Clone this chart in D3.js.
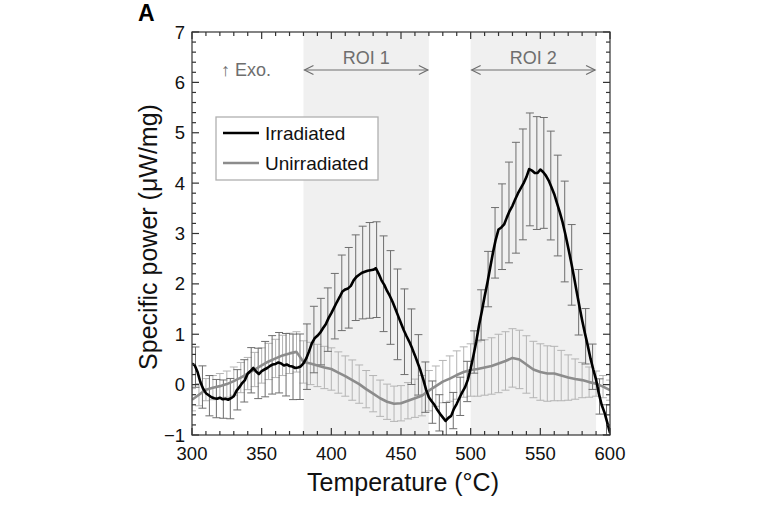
<!DOCTYPE html>
<html><head><meta charset="utf-8">
<script src="https://cdn.jsdelivr.net/npm/d3@7"></script>
<style>body{margin:0;background:#fff}text{font-family:"Liberation Sans",Arial,Helvetica,sans-serif}</style>
</head><body>
<svg id="chart" width="760" height="506"></svg>
<script>
// ---------- data ----------
const irradiatedTemp = [300,302,304,306,308,310,312,314,316,318,320,322,324,326,328,330,332,334,336,338,340,342,344,346,348,350,352,354,356,358,360,362,364,366,368,370,372,374,376,378,380,382,384,386,388,390,392,394,396,398,400,402,404,406,408,410,412,414,416,418,420,422,424,426,428,430,432,434,436,438,440,442,444,446,448,450,452,454,456,458,460,462,464,466,468,470,472,474,476,478,480,482,484,486,488,490,492,494,496,498,500,502,504,506,508,510,512,514,516,518,520,522,524,526,528,530,532,534,536,538,540,542,544,546,548,550,552,554,556,558,560,562,564,566,568,570,572,574,576,578,580,582,584,586,588,590,592,594,596,598,600];
const irradiatedPower = [0.42,0.38,0.25,0.05,-0.08,-0.17,-0.21,-0.25,-0.27,-0.28,-0.26,-0.29,-0.28,-0.30,-0.27,-0.23,-0.12,-0.05,0.03,0.09,0.22,0.27,0.33,0.26,0.21,0.27,0.30,0.33,0.37,0.40,0.41,0.44,0.42,0.38,0.40,0.37,0.36,0.33,0.34,0.36,0.42,0.52,0.66,0.82,0.92,0.97,1.03,1.12,1.20,1.32,1.42,1.53,1.64,1.74,1.85,1.89,1.91,1.96,2.07,2.14,2.18,2.22,2.24,2.26,2.27,2.28,2.31,2.20,2.07,1.98,1.86,1.76,1.64,1.50,1.36,1.22,1.08,0.96,0.85,0.72,0.58,0.43,0.28,0.10,-0.10,-0.25,-0.33,-0.40,-0.50,-0.58,-0.65,-0.72,-0.66,-0.62,-0.48,-0.38,-0.26,-0.15,-0.05,0.10,0.32,0.58,0.85,1.18,1.45,1.75,2.02,2.32,2.62,2.88,3.08,3.12,3.18,3.32,3.45,3.55,3.68,3.80,3.90,4.00,4.12,4.28,4.25,4.20,4.20,4.27,4.22,4.15,4.05,3.92,3.78,3.60,3.42,3.22,2.98,2.72,2.45,2.16,1.86,1.56,1.28,1.02,0.78,0.52,0.30,0.10,-0.18,-0.40,-0.55,-0.75,-0.96];
const irradiatedErrTemp = [302.5,307.5,312.5,317.5,322.5,327.5,332.5,337.5,342.5,347.5,352.5,357.5,362.5,367.5,372.5,377.5,382.5,387.5,392.5,397.5,402.5,407.5,412.5,417.5,422.5,427.5,432.5,437.5,442.5,447.5,452.5,457.5,462.5,467.5,472.5,477.5,482.5,487.5,492.5,497.5,502.5,507.5,512.5,517.5,522.5,527.5,532.5,537.5,542.5,547.5,552.5,557.5,562.5,567.5,572.5,577.5,582.5,587.5,592.5,597.5];
const irradiatedErr = [0.4,0.42,0.4,0.38,0.38,0.4,0.4,0.42,0.45,0.5,0.55,0.58,0.6,0.62,0.65,0.65,0.65,0.66,0.66,0.63,0.65,0.75,0.8,0.85,0.92,0.95,0.95,0.95,0.93,0.9,0.85,0.75,0.6,0.5,0.42,0.36,0.35,0.36,0.38,0.4,0.42,0.5,0.55,0.7,0.85,1.0,1.1,1.1,1.12,1.12,1.1,1.08,1.0,1.0,0.8,0.65,0.55,0.45,0.35,0.3];

const unirradiatedTemp = [300,305,310,315,320,325,330,335,340,345,350,355,360,365,370,375,380,385,390,395,400,405,410,415,420,425,430,435,440,445,450,455,460,465,470,475,480,485,490,495,500,505,510,515,520,525,530,535,540,545,550,555,560,565,570,575,580,585,590,595,600];
const unirradiatedPower = [-0.30,-0.20,-0.10,-0.06,-0.03,0.01,0.07,0.14,0.22,0.30,0.38,0.46,0.52,0.58,0.62,0.65,0.45,0.42,0.38,0.34,0.31,0.24,0.17,0.09,0.01,-0.09,-0.18,-0.27,-0.34,-0.38,-0.37,-0.32,-0.27,-0.22,-0.12,-0.03,0.06,0.12,0.19,0.25,0.29,0.31,0.34,0.37,0.42,0.47,0.53,0.50,0.40,0.30,0.25,0.22,0.22,0.18,0.14,0.11,0.09,0.05,0.02,-0.04,-0.11];
const unirradiatedErr = [0.22,0.22,0.22,0.24,0.25,0.26,0.28,0.3,0.32,0.34,0.35,0.36,0.38,0.4,0.4,0.4,0.42,0.42,0.42,0.42,0.42,0.41,0.4,0.4,0.38,0.37,0.36,0.36,0.35,0.35,0.35,0.36,0.38,0.4,0.4,0.4,0.42,0.45,0.48,0.5,0.52,0.54,0.55,0.56,0.58,0.58,0.58,0.58,0.57,0.56,0.56,0.55,0.54,0.5,0.45,0.4,0.35,0.3,0.25,0.22,0.2];

const regions = [{name:"ROI 1", from:380, to:470},{name:"ROI 2", from:500, to:590}];
const xTicks = [300,350,400,450,500,550,600];
const yTicks = [-1,0,1,2,3,4,5,6,7];

// ---------- chart ----------
const svg = d3.select("#chart");
const x = d3.scaleLinear().domain([300,600]).range([192,610]);
const y = d3.scaleLinear().domain([-1,7]).range([435,32]);
const [x0,x1] = x.range(), [y0,y1] = y.range();

svg.append("clipPath").attr("id","clip").append("rect")
  .attr("x",x0).attr("y",y1).attr("width",x1-x0).attr("height",y0-y1);

// shaded ROIs
svg.selectAll("rect.roi").data(regions).join("rect").attr("class","roi")
  .attr("x",d=>x(d.from)).attr("width",d=>x(d.to)-x(d.from))
  .attr("y",y1).attr("height",y0-y1).attr("fill","#f0f0f0");

const plot = svg.append("g").attr("clip-path","url(#clip)");
const cap = 4;
function errorBars(g, temps, centers, errs, color){
  const data = temps.map((t,i)=>({t, c:centers(t,i), e:errs[i]}));
  const gg = g.append("g").attr("stroke",color).attr("stroke-width",1).attr("fill","none");
  gg.selectAll("path").data(data).join("path")
    .attr("d",d=>{
      const px=x(d.t), top=y(d.c+d.e), bot=y(d.c-d.e);
      return `M${px},${top}V${bot}M${px-cap},${top}H${px+cap}M${px-cap},${bot}H${px+cap}`;
    });
}
const irrAt = d3.scaleLinear().domain(irradiatedTemp).range(irradiatedPower);
errorBars(plot, unirradiatedTemp, (t,i)=>unirradiatedPower[i], unirradiatedErr, "#b4b4b4");
errorBars(plot, irradiatedErrTemp, t=>irrAt(t), irradiatedErr, "#6e6e6e");

const line = d3.line().x(d=>x(d[0])).y(d=>y(d[1]));
plot.append("path").datum(unirradiatedTemp.map((t,i)=>[t,unirradiatedPower[i]]))
  .attr("d",line).attr("fill","none").attr("stroke","#8c8c8c").attr("stroke-width",2.6).attr("stroke-linejoin","round");
plot.append("path").datum(irradiatedTemp.map((t,i)=>[t,irradiatedPower[i]]))
  .attr("d",line).attr("fill","none").attr("stroke","#000").attr("stroke-width",2.6).attr("stroke-linejoin","round");

// frame & ticks
const axisColor = "#333";
svg.append("rect").attr("x",x0).attr("y",y1).attr("width",x1-x0).attr("height",y0-y1)
  .attr("fill","none").attr("stroke",axisColor).attr("stroke-width",1.2);
const tk = svg.append("g").attr("stroke",axisColor).attr("stroke-width",1.2);
const xMinor = d3.range(300,601,10), yMinor = d3.range(-1,7.001,0.2);
xMinor.forEach(v=>{
  const len = xTicks.includes(v)?7:4;
  tk.append("line").attr("x1",x(v)).attr("x2",x(v)).attr("y1",y0).attr("y2",y0-len);
  tk.append("line").attr("x1",x(v)).attr("x2",x(v)).attr("y1",y1).attr("y2",y1+len);
});
yMinor.forEach(v=>{
  const major = Math.abs(v-Math.round(v))<1e-6;
  const len = major?7:4;
  tk.append("line").attr("y1",y(v)).attr("y2",y(v)).attr("x1",x0).attr("x2",x0+len);
  tk.append("line").attr("y1",y(v)).attr("y2",y(v)).attr("x1",x1).attr("x2",x1-len);
});
const fmt = v => v<0 ? "\u2212"+Math.abs(v) : String(v);
svg.append("g").selectAll("text").data(xTicks).join("text")
  .attr("x",d=>x(d)).attr("y",y0+25).attr("text-anchor","middle")
  .attr("font-size",18.5).attr("fill","#111").text(d=>d);
svg.append("g").selectAll("text").data(yTicks).join("text")
  .attr("x",x0-7).attr("y",d=>y(d)+6.5).attr("text-anchor","end")
  .attr("font-size",18.5).attr("fill","#111").text(fmt);

// axis titles
svg.append("text").attr("x",403).attr("y",491).attr("text-anchor","middle")
  .attr("font-size",25).attr("fill","#111").text("Temperature (°C)");
svg.append("text").attr("transform",`translate(157,237) rotate(-90)`).attr("text-anchor","middle")
  .attr("font-size",25).attr("fill","#111").text("Specific power (μW/mg)");
svg.append("text").attr("x",138).attr("y",21).attr("font-size",23).attr("font-weight","bold").text("A");

// ROI labels with arrows
const annColor = "#6e6e6e";
const ay = 70;
regions.forEach(r=>{
  const a=x(r.from)+1, b=x(r.to)-1;
  const g = svg.append("g").attr("stroke",annColor).attr("stroke-width",1.2).attr("fill","none");
  g.append("line").attr("x1",a).attr("x2",b).attr("y1",ay).attr("y2",ay);
  g.append("path").attr("d",`M${a+9},${ay-4.5}L${a},${ay}L${a+9},${ay+4.5}`);
  g.append("path").attr("d",`M${b-9},${ay-4.5}L${b},${ay}L${b-9},${ay+4.5}`);
  svg.append("text").attr("x",(a+b)/2).attr("y",ay-6).attr("text-anchor","middle")
    .attr("font-size",18).attr("fill",annColor).text(r.name);
});
svg.append("text").attr("x",221).attr("y",ay+6).attr("font-size",18).attr("fill",annColor).text("↑ Exo.");

// legend
const lg = svg.append("g");
lg.append("rect").attr("x",216).attr("y",117).attr("width",162).attr("height",63)
  .attr("fill","#fff").attr("stroke","#b0b0b0").attr("stroke-width",1.3);
const items = [{label:"Irradiated", color:"#000"},{label:"Unirradiated", color:"#8c8c8c"}];
items.forEach((it,i)=>{
  const yy = 133 + i*30;
  lg.append("line").attr("x1",223).attr("x2",259).attr("y1",yy).attr("y2",yy)
    .attr("stroke",it.color).attr("stroke-width",2.6);
  lg.append("text").attr("x",265).attr("y",yy+7).attr("font-size",19).attr("fill","#111").text(it.label);
});
</script>
</body></html>
